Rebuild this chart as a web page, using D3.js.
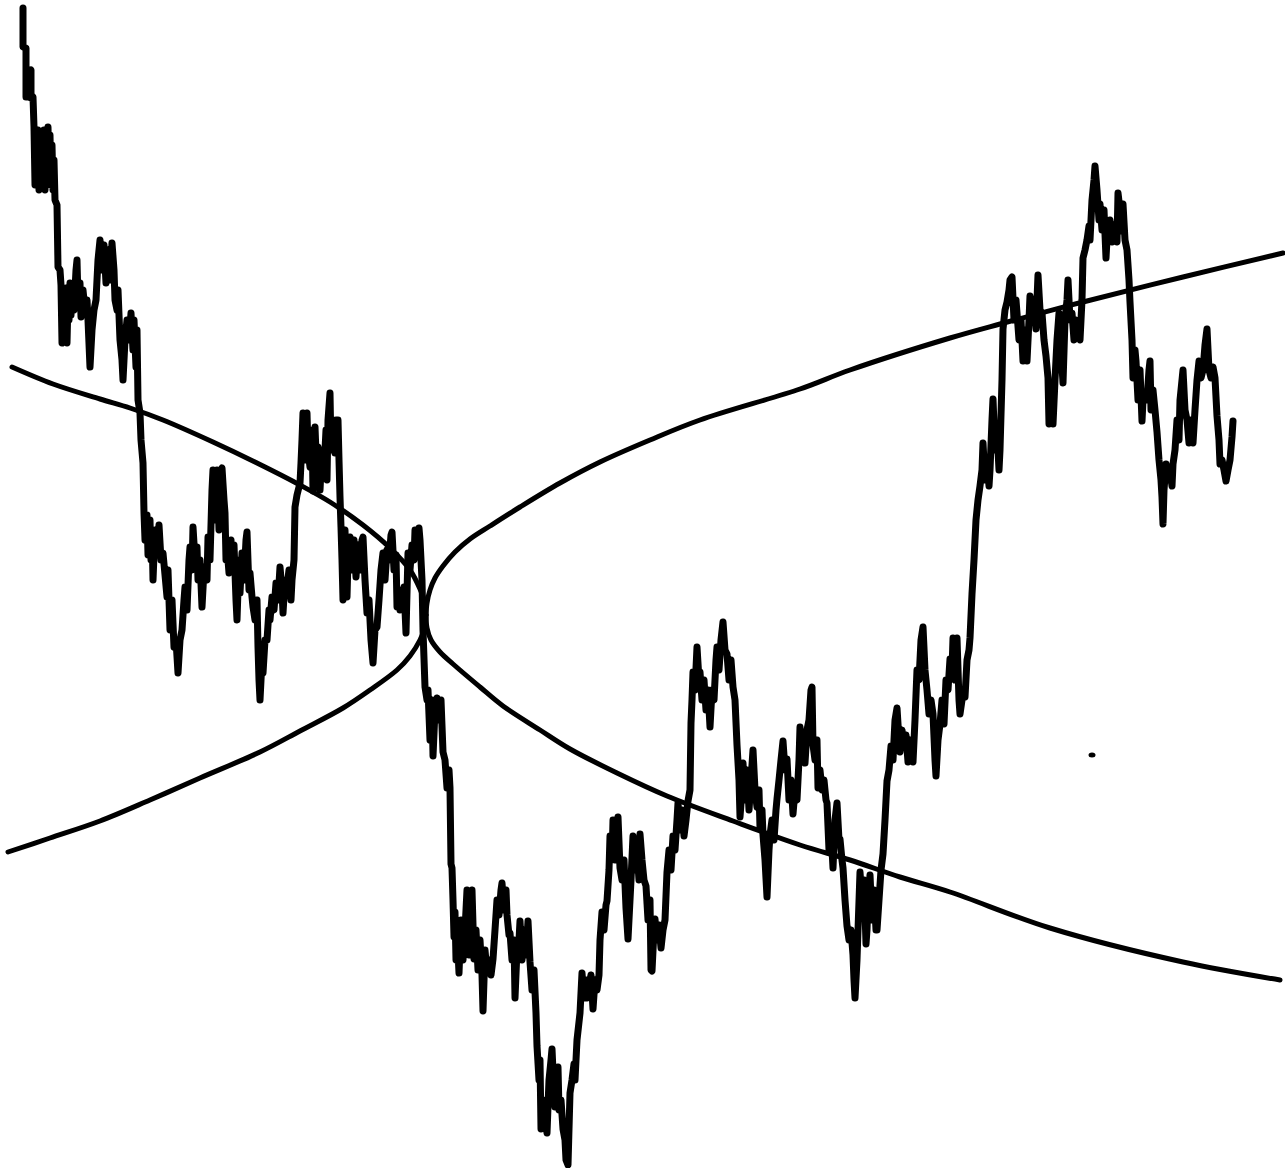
<!DOCTYPE html>
<html>
<head>
<meta charset="utf-8">
<script src="https://cdn.jsdelivr.net/npm/d3@7"></script>
<style>
html,body{margin:0;padding:0;background:#fff;}
svg{display:block;}
</style>
</head>
<body>
<svg id="chart" width="1285" height="1168"></svg>
<script>
// Domain extents (time index, level measured downward)
const timeExtent = [0, 1285];
const levelExtent = [0, 1168];

// Random-walk series: [time, level]
const walk = [
[23,8],[23,47],[26,48],[26,97],[29,97],[29,72],[31,70],[31,98],[33,97],[34,127],[35,185],[36,140],[37,180],[38,130],[39,190],[40,140],[41,185],[42,135],[43,175],[44,130],[45,190],[46,140],[47,180],[48,127],[49,170],[50,135],[51,185],[52,145],[53,190],[54,160],[55,200],[57,205],[58,267],[60,270],[61,285],[62,343],[64,290],[65,335],[66,288],[67,343],[68,300],[69,320],[70,283],[71,315],[72,290],[74,310],[76,270],[77,260],[78,300],[80,283],[81,317],[83,290],[85,310],[87,300],[88,320],[90,367],[92,330],[94,310],[96,300],[98,260],[100,240],[102,270],[104,245],[106,283],[108,250],[110,280],[112,243],[114,270],[115,300],[117,310],[118,290],[120,340],[122,360],[123,380],[125,340],[127,320],[129,340],[131,313],[133,350],[134,320],[136,367],[137,330],[138,400],[140,413],[141,440],[143,463],[144,513],[145,540],[147,515],[148,555],[150,520],[151,560],[152,530],[153,580],[155,530],[157,555],[159,525],[161,560],[163,553],[165,575],[167,597],[168,570],[170,630],[172,600],[174,647],[176,640],[178,673],[180,640],[182,630],[184,600],[185,587],[187,610],[189,560],[190,547],[192,570],[193,527],[195,560],[197,547],[198,580],[200,560],[202,607],[204,570],[205,567],[207,580],[208,537],[210,560],[212,490],[213,470],[215,520],[217,470],[219,530],[221,470],[222,468],[224,500],[225,513],[226,560],[227,547],[229,573],[231,540],[232,567],[234,545],[236,600],[237,620],[239,560],[240,593],[242,553],[244,580],[246,540],[247,532],[249,590],[250,573],[252,597],[253,607],[255,620],[257,600],[258,647],[259,680],[260,700],[262,660],[263,673],[265,640],[267,640],[269,610],[270,620],[272,597],[274,610],[276,583],[278,600],[280,567],[282,590],[283,613],[285,580],[287,587],[289,570],[291,600],[292,580],[294,560],[295,507],[297,495],[300,483],[301,463],[302,440],[303,413],[305,460],[307,413],[308,450],[310,467],[312,430],[313,491],[315,427],[317,480],[318,447],[320,490],[322,450],[324,470],[326,430],[327,480],[328,420],[330,393],[331,450],[333,420],[335,453],[336,420],[338,420],[339,460],[340,497],[341,527],[342,560],[343,600],[345,530],[347,597],[348,560],[350,537],[352,570],[354,540],[356,577],[358,545],[360,570],[362,540],[363,537],[365,580],[367,613],[369,600],[371,640],[373,663],[375,630],[377,627],[379,600],[381,570],[383,553],[385,580],[387,550],[389,560],[391,535],[392,532],[394,570],[396,555],[397,607],[399,590],[400,610],[402,600],[404,587],[406,633],[408,553],[410,570],[412,545],[414,560],[415,530],[417,545],[419,528],[420,540],[422,580],[423,630],[425,687],[427,700],[428,690],[430,740],[432,700],[433,756],[435,710],[437,698],[439,720],[441,700],[443,752],[445,760],[447,788],[449,770],[450,788],[451,864],[452,868],[453,900],[454,937],[455,912],[456,960],[457,930],[459,973],[461,920],[463,960],[465,930],[467,890],[469,955],[471,895],[472,890],[474,959],[476,930],[478,970],[480,940],[482,975],[483,1011],[485,950],[487,973],[489,960],[491,975],[493,959],[495,930],[497,900],[499,915],[501,890],[502,883],[504,910],[506,890],[507,915],[509,935],[510,933],[512,960],[514,940],[515,998],[517,950],[518,960],[520,921],[522,960],[524,930],[526,955],[528,921],[530,962],[532,990],[534,970],[536,1013],[537,1046],[539,1080],[540,1060],[541,1129],[543,1100],[545,1120],[547,1133],[549,1080],[551,1060],[552,1049],[553,1071],[555,1107],[557,1085],[558,1067],[559,1110],[561,1100],[563,1129],[565,1140],[566,1160],[568,1165],[570,1093],[572,1080],[574,1064],[575,1080],[577,1040],[580,1013],[582,973],[584,998],[586,980],[587,998],[589,985],[591,975],[593,1009],[595,980],[597,990],[599,975],[600,940],[602,912],[604,930],[606,905],[607,901],[609,870],[610,836],[612,860],[613,820],[615,860],[617,830],[618,817],[620,868],[622,880],[624,860],[626,908],[628,939],[630,900],[631,880],[633,836],[635,870],[637,850],[639,880],[640,834],[642,860],[644,880],[646,886],[648,920],[650,900],[651,970],[652,971],[654,930],[655,919],[657,940],[659,925],[661,948],[663,930],[665,920],[667,872],[669,850],[671,870],[673,836],[675,850],[677,820],[678,803],[680,830],[682,810],[684,836],[686,820],[688,801],[690,790],[691,723],[692,700],[693,672],[695,690],[697,647],[699,680],[700,672],[702,700],[704,680],[706,710],[708,690],[710,727],[712,690],[714,700],[716,660],[717,647],[719,670],[721,640],[723,622],[725,650],[727,654],[729,680],[731,660],[733,687],[735,700],[737,745],[739,780],[740,817],[742,790],[743,763],[745,800],[747,770],[749,810],[751,780],[753,750],[755,790],[757,807],[759,790],[760,828],[762,810],[763,835],[765,860],[767,897],[769,850],[770,835],[772,820],[774,840],[776,810],[777,799],[779,780],[781,760],[783,741],[785,770],[787,759],[789,800],[791,780],[793,814],[795,790],[797,800],[799,760],[800,727],[802,760],[804,740],[805,763],[807,730],[809,720],[811,690],[812,687],[813,745],[815,760],[817,740],[818,788],[820,770],[822,790],[824,780],[826,800],[827,803],[829,850],[831,830],[833,868],[835,820],[837,803],[839,840],[840,839],[842,860],[843,868],[845,900],[847,926],[849,940],[851,930],[853,955],[854,980],[855,998],[857,960],[858,930],[860,872],[862,900],[864,880],[866,944],[867,930],[868,900],[870,875],[872,920],[874,890],[876,930],[877,930],[879,900],[881,870],[883,854],[885,820],[887,781],[889,770],[891,746],[893,760],[895,720],[897,708],[899,740],[900,752],[902,730],[904,745],[906,735],[908,762],[910,740],[912,750],[913,762],[915,720],[917,670],[919,680],[921,640],[923,627],[925,670],[927,690],[929,714],[931,700],[933,714],[935,760],[936,776],[938,740],[940,724],[942,700],[944,724],[946,680],[948,690],[950,659],[952,670],[953,638],[955,680],[957,638],[959,700],[960,714],[962,700],[964,690],[965,697],[967,660],[969,650],[970,638],[972,594],[974,560],[976,520],[978,500],[980,486],[982,470],[983,443],[985,480],[987,460],[989,486],[990,470],[992,420],[993,399],[995,450],[997,430],[999,470],[1000,450],[1002,380],[1003,329],[1005,310],[1007,302],[1009,290],[1010,280],[1012,277],[1014,320],[1016,300],[1017,313],[1019,340],[1021,320],[1023,361],[1025,330],[1027,361],[1029,320],[1030,296],[1032,310],[1034,300],[1036,329],[1037,300],[1038,275],[1040,310],[1042,313],[1044,340],[1046,356],[1048,378],[1049,424],[1050,400],[1052,390],[1053,424],[1055,380],[1057,340],[1059,313],[1061,350],[1063,383],[1065,320],[1067,300],[1068,280],[1070,320],[1072,313],[1074,340],[1076,320],[1078,335],[1080,340],[1082,300],[1083,258],[1085,250],[1087,240],[1089,226],[1090,240],[1092,200],[1094,180],[1095,166],[1097,190],[1099,220],[1100,204],[1102,230],[1104,210],[1106,258],[1107,240],[1109,230],[1110,220],[1112,242],[1114,225],[1116,235],[1117,242],[1118,193],[1120,210],[1122,231],[1123,204],[1125,240],[1127,250],[1129,280],[1130,302],[1132,340],[1133,378],[1135,350],[1136,361],[1138,400],[1140,370],[1142,421],[1143,400],[1145,395],[1147,400],[1149,370],[1150,361],[1151,410],[1153,390],[1155,410],[1157,432],[1159,460],[1161,480],[1162,497],[1163,524],[1164,490],[1166,464],[1168,480],[1170,470],[1172,486],[1173,464],[1175,450],[1177,420],[1179,440],[1180,400],[1182,380],[1183,370],[1185,410],[1187,420],[1189,443],[1191,420],[1193,443],[1195,410],[1197,380],[1199,361],[1201,378],[1203,370],[1205,345],[1207,329],[1209,370],[1211,378],[1213,367],[1215,378],[1217,416],[1219,440],[1220,464],[1222,460],[1224,470],[1226,481],[1228,470],[1230,460],[1232,437],[1233,421]
];

// Envelope curve A (falling), two branches from the apex
const curveALeft = [[426,615],[425,603],[420,589],[410,570],[390,548],[363,525],[330,502],[300,485],[257,463],[213,442],[163,420],[130,408],[100,399],[53,384],[12,367]];
const curveARight = [[426,615],[427,628],[431,640],[440,652],[453,664],[480,687],[503,706],[540,730],[570,749],[617,773],[667,796],[733,821],[800,845],[850,860],[900,877],[950,892],[1050,928],[1183,962],[1280,980]];
// Envelope curve B (rising), two branches from the apex
const curveBLeft = [[426,615],[425,627],[420,640],[410,656],[397,670],[370,690],[343,708],[300,731],[260,752],[200,778],[150,800],[100,821],[50,838],[8,852]];
const curveBRight = [[426,615],[427,603],[430,590],[435,578],[443,566],[455,552],[470,539],[490,526],[520,507],[560,483],[600,462],[650,440],[700,420],[800,389],[850,370],[950,338],[1000,324],[1083,302],[1183,277],[1283,253]];

// Stray mark
const strayMark = [[1092,755]];

const svg = d3.select("#chart");
const x = d3.scaleLinear().domain(timeExtent).range([0, 1285]);
const y = d3.scaleLinear().domain(levelExtent).range([0, 1168]);

const walkLine = d3.line().x(d => x(d[0])).y(d => y(d[1])).curve(d3.curveLinear);
const smoothLine = d3.line().x(d => x(d[0])).y(d => y(d[1])).curve(d3.curveCatmullRom.alpha(0.5));

[curveALeft, curveARight, curveBLeft, curveBRight].forEach(c => {
  svg.append("path")
    .attr("d", smoothLine(c))
    .attr("fill", "none")
    .attr("stroke", "#000")
    .attr("stroke-width", 5)
    .attr("stroke-linecap", "round")
    .attr("stroke-linejoin", "round");
});

svg.append("path")
  .attr("d", walkLine(walk))
  .attr("fill", "none")
  .attr("stroke", "#000")
  .attr("stroke-width", 7)
  .attr("stroke-linecap", "round")
  .attr("stroke-linejoin", "round");

svg.selectAll("ellipse.stray").data(strayMark).enter().append("ellipse")
  .attr("class", "stray")
  .attr("cx", d => x(d[0]))
  .attr("cy", d => y(d[1]))
  .attr("rx", 3.5)
  .attr("ry", 2.5)
  .attr("fill", "#000");
</script>
</body>
</html>
